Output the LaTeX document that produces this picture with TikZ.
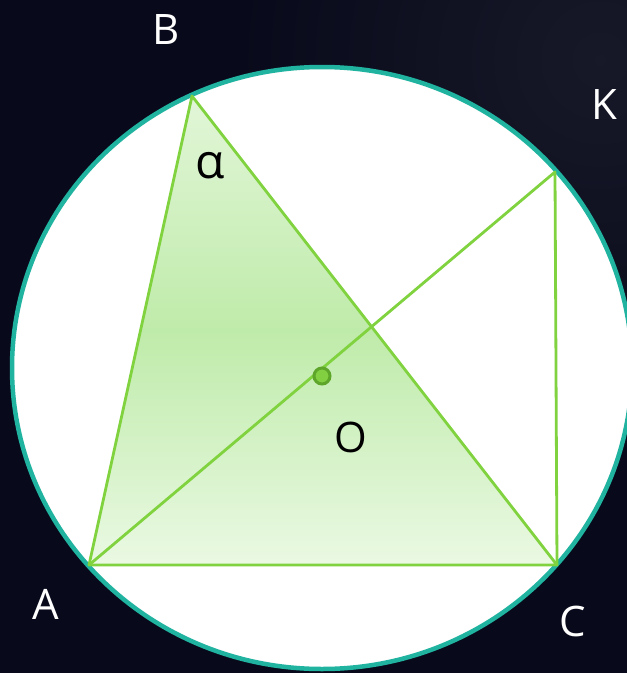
\documentclass[tikz,border=0pt]{standalone}
\usepackage{fontspec}
\setmainfont{Open Sans}
\begin{document}
\begin{tikzpicture}[x=1pt,y=-1pt,
  lbl/.style={text=white,font=\fontsize{42}{48}\selectfont,inner sep=0pt},
  greenline/.style={draw=lineg,line width=2.8pt,line join=round},
]
\definecolor{bgdark}{HTML}{080A1B}
\definecolor{bglight}{HTML}{2A2B38}
\definecolor{teal}{HTML}{1FB3A0}
\definecolor{lineg}{HTML}{80D33F}
\definecolor{ftop}{HTML}{E2F6D8}
\definecolor{fmid}{HTML}{BFEBAA}
\definecolor{fbot}{HTML}{EAF9E3}
\definecolor{dotfill}{HTML}{82D042}
\definecolor{dotedge}{HTML}{5EA62A}
\useasboundingbox (0,0) rectangle (627,673);
\fill[bgdark] (0,0) rectangle (627,673);
\begin{scope}
\clip (0,0) rectangle (627,673);
\shade[inner color=bglight,outer color=bgdark,opacity=0.45] (600,60) circle (380);
\end{scope}
% circle
\filldraw[fill=white,draw=teal,line width=4.5pt] (322,368) ellipse [x radius=310,y radius=301];
% points
\coordinate (A) at (89,565);
\coordinate (B) at (192,96);
\coordinate (C) at (557,565);
\coordinate (K) at (555,172);
\coordinate (O) at (322,376);
% triangle
\shade[top color=ftop,bottom color=fbot,middle color=fmid] (A) -- (B) -- (C) -- cycle;
\draw[greenline] (A) -- (B) -- (C) -- cycle;
\draw[greenline] (A) -- (K) -- (C);
\filldraw[fill=dotfill,draw=dotedge,line width=3pt] (O) circle (8);
% labels
\node[lbl] (lB) at (166,30) {B};
\node[lbl] (lK) at (604,105) {K};
\node[lbl] (lA) at (46,604) {A};
\node[lbl] (lC) at (573,621) {C};
\node[lbl,text=black] (lO) at (351,437) {O};
\node[lbl,text=black,font=\fontsize{48}{54}\selectfont] (la) at (210,166) {α};
\end{tikzpicture}
\end{document}
